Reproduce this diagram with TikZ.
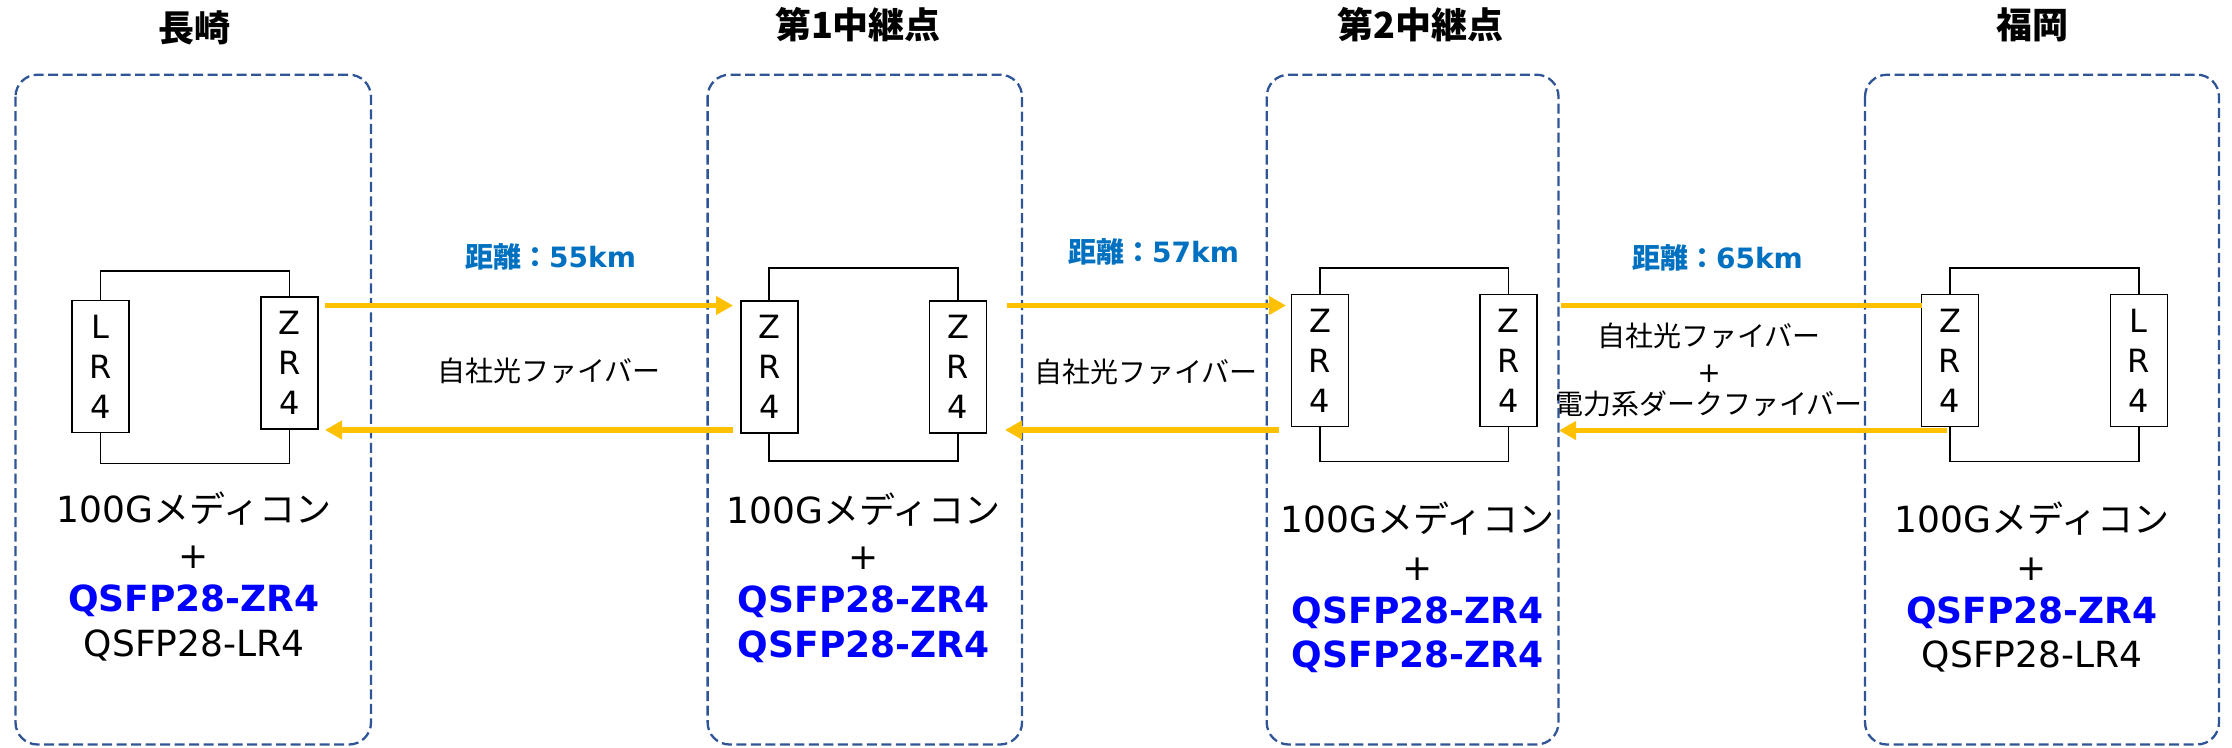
\documentclass[tikz,border=0pt]{standalone}
\usepackage{fontspec}
\setmainfont{DejaVu Sans}
\newfontfamily\jp{Noto Sans CJK JP}
\usetikzlibrary{arrows.meta}
\definecolor{dashblue}{HTML}{2F5597}
\definecolor{fiber}{HTML}{FFC000}
\definecolor{distblue}{HTML}{0070C0}
\definecolor{qblue}{HTML}{0000FF}
\tikzset{
  site/.style={draw=dashblue, line width=2.3pt, dash pattern=on 10pt off 4.5pt, rounded corners=22pt},
  modbox/.style={draw=black, line width=1.6pt, fill=white, minimum width=57pt, minimum height=132pt, inner sep=0pt, align=center, font=\fontsize{32}{40}\selectfont},
  looppath/.style={draw=black, line width=1.6pt},
  fib/.style={draw=fiber, line width=5.5pt},
  fibarrow/.style={fib, -{Triangle[length=17pt,width=18pt]}},
  sitetitle/.style={font=\jp\bfseries\fontsize{36}{40}\selectfont, anchor=base, inner sep=0pt},
  bodytxt/.style={font=\fontsize{36}{40}\selectfont, anchor=base, inner sep=0pt},
  zrtxt/.style={font=\bfseries\fontsize{36}{40}\selectfont, text=qblue, anchor=base, inner sep=0pt},
  disttxt/.style={font=\bfseries\fontsize{28}{32}\selectfont, text=distblue, anchor=base, inner sep=0pt},
  fibtxt/.style={font=\jp\fontsize{28}{32}\selectfont, anchor=base, inner sep=0pt},
}
\begin{document}
\begin{tikzpicture}[x=1pt,y=-1pt]
\useasboundingbox (0,0) rectangle (2232,747);

% site frames
\draw[site] (15.5,74.7) rectangle (371,744.5);
\draw[site] (707.6,74.7) rectangle (1022,744.5);
\draw[site] (1266.7,74.7) rectangle (1558.5,744.5);
\draw[site] (1865,74.7) rectangle (2219,744.5);

% titles
\node[sitetitle] (t1) at (194,41) {長崎};
\node[sitetitle] (t2) at (858,38) {第1中継点};
\node[sitetitle] (t3) at (1420.5,38.5) {第2中継点};
\node[sitetitle] (t4) at (2032,38.5) {福岡};

% modules
\node[modbox] (m1a) at (100.5,366.6) {L\\R\\4};
\node[modbox] (m1b) at (289.6,363.2) {Z\\R\\4};
\node[modbox] (m2a) at (769.2,367) {Z\\R\\4};
\node[modbox] (m2b) at (958.1,367) {Z\\R\\4};
\node[modbox] (m3a) at (1320,360.4) {Z\\R\\4};
\node[modbox] (m3b) at (1508.5,360.4) {Z\\R\\4};
\node[modbox] (m4a) at (1950,360.4) {Z\\R\\4};
\node[modbox] (m4b) at (2138.8,360.4) {L\\R\\4};

% media converter loops
\draw[looppath] (m1a.north) -- ++(0,-29) -| (m1b.north);
\draw[looppath] (m1a.south) -- ++(0,30) -| (m1b.south);
\draw[looppath] (m2a.north) -- ++(0,-32) -| (m2b.north);
\draw[looppath] (m2a.south) -- ++(0,27) -| (m2b.south);
\draw[looppath] (m3a.north) -- ++(0,-25.4) -| (m3b.north);
\draw[looppath] (m3a.south) -- ++(0,34.3) -| (m3b.south);
\draw[looppath] (m4a.north) -- ++(0,-25.4) -| (m4b.north);
\draw[looppath] (m4a.south) -- ++(0,34.3) -| (m4b.south);

% fiber endpoints
\coordinate (a1s) at (325,305.5);
\coordinate (a1e) at (733,305.5);
\coordinate (a2s) at (733,430);
\coordinate (a2e) at (325,430);
\coordinate (a3s) at (1007,305.5);
\coordinate (a3e) at (1286,305.5);
\coordinate (a4s) at (1278.7,430);
\coordinate (a4e) at (1005,430);
\coordinate (a5s) at (1561,305.5);
\coordinate (a5e) at (1921.6,305.5);
\coordinate (a6s) at (1947,430.5);
\coordinate (a6e) at (1559,430.5);

\draw[fibarrow] (a1s) -- (a1e);
\draw[fibarrow] (a2s) -- (a2e);
\draw[fibarrow] (a3s) -- (a3e);
\draw[fibarrow] (a4s) -- (a4e);
\draw[fib] (a5s) -- (a5e);
\draw[fibarrow] (a6s) -- (a6e);

% link labels
\node[disttxt] (d1) at (550.6,267.3) {{\jp 距離：}55km};
\node[disttxt] (d2) at (1153.6,262.8) {{\jp 距離：}57km};
\node[disttxt] (d3) at (1717.5,268) {{\jp 距離：}65km};
\node[fibtxt] (f1) at (549,381.5) {自社光ファイバー};
\node[fibtxt] (f2) at (1146,382) {自社光ファイバー};
\node[fibtxt] (f3a) at (1709,346.5) {自社光ファイバー};
\node[fibtxt] (f3p) at (1709,382) {\rmfamily +};
\node[fibtxt] (f3b) at (1709,414.5) {電力系ダークファイバー};

% site descriptions
\node[bodytxt] (s1a) at (194,522) {100G{\jp メディコン}};
\node[bodytxt] (s1b) at (194,568) {+};
\node[zrtxt]   (s1c) at (194,611) {QSFP28-ZR4};
\node[bodytxt] (s1d) at (194,656) {QSFP28-LR4};

\node[bodytxt] (s2a) at (863.7,523) {100G{\jp メディコン}};
\node[bodytxt] (s2b) at (863.7,569) {+};
\node[zrtxt]   (s2c) at (863.7,612) {QSFP28-ZR4};
\node[zrtxt]   (s2d) at (863.7,657) {QSFP28-ZR4};

\node[bodytxt] (s3a) at (1417.6,532) {100G{\jp メディコン}};
\node[bodytxt] (s3b) at (1417.6,580) {+};
\node[zrtxt]   (s3c) at (1417.6,623) {QSFP28-ZR4};
\node[zrtxt]   (s3d) at (1417.6,667) {QSFP28-ZR4};

\node[bodytxt] (s4a) at (2032,532) {100G{\jp メディコン}};
\node[bodytxt] (s4b) at (2032,580) {+};
\node[zrtxt]   (s4c) at (2032,623) {QSFP28-ZR4};
\node[bodytxt] (s4d) at (2032,667) {QSFP28-LR4};
\end{tikzpicture}
\end{document}
